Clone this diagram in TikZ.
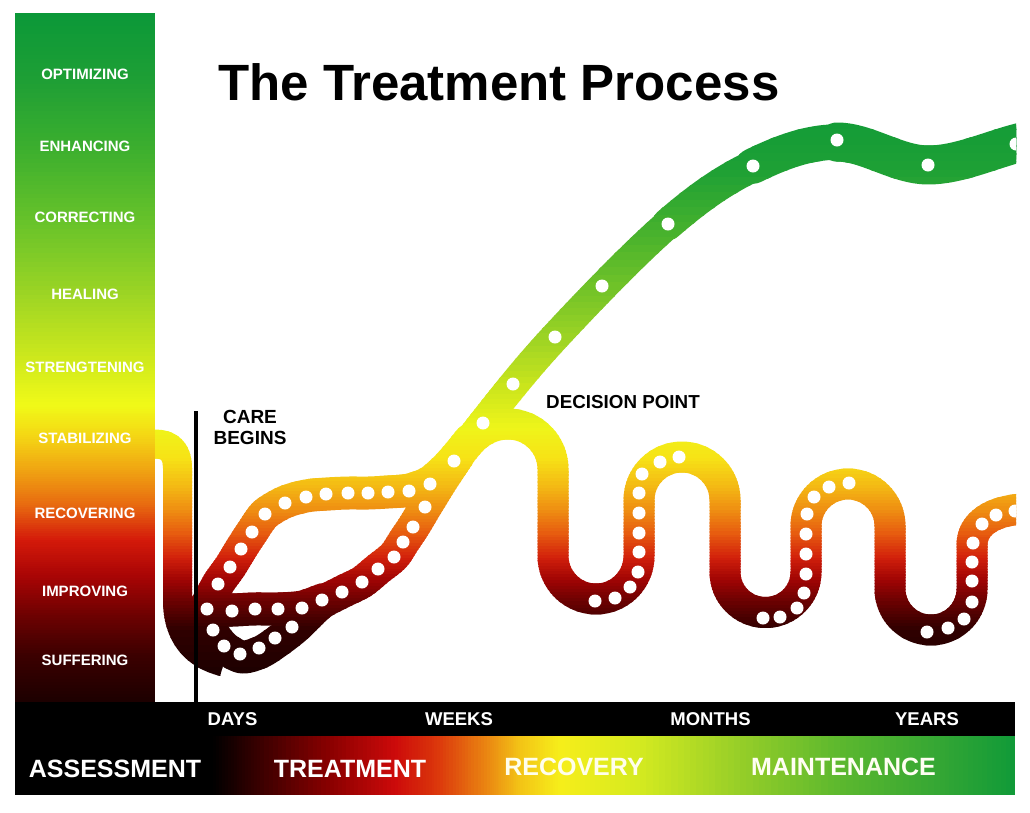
\documentclass[tikz,border=0pt]{standalone}
\usepackage{fontspec}
\setmainfont{Liberation Sans}
% road colours (by height)
\definecolor{ra}{HTML}{0F9A38}\definecolor{rb}{HTML}{1EA035}\definecolor{rc}{HTML}{45B12D}
\definecolor{rd}{HTML}{72C328}\definecolor{re}{HTML}{9ED424}\definecolor{rf}{HTML}{CDE61C}
\definecolor{rg}{HTML}{EEF51A}\definecolor{rh}{HTML}{F7E316}\definecolor{ri}{HTML}{F4BC14}
\definecolor{rj}{HTML}{EF8F12}\definecolor{rk}{HTML}{E65A0F}\definecolor{rl}{HTML}{D2200B}
\definecolor{rm}{HTML}{A00404}\definecolor{rn}{HTML}{640101}\definecolor{ro}{HTML}{300000}
\definecolor{rp}{HTML}{160000}
% left bar colours
\definecolor{ba}{HTML}{0B9838}\definecolor{bb}{HTML}{1E9F35}\definecolor{bc}{HTML}{3DAF2E}
\definecolor{bd}{HTML}{66C22A}\definecolor{be}{HTML}{9DD524}\definecolor{bf}{HTML}{CFE91C}
\definecolor{bg}{HTML}{F0FA18}\definecolor{bh}{HTML}{F4D814}\definecolor{bi}{HTML}{F0A412}
\definecolor{bj}{HTML}{E86A10}\definecolor{bk}{HTML}{D41A0A}\definecolor{bl}{HTML}{AA0505}
\definecolor{bm}{HTML}{6E0101}\definecolor{bn}{HTML}{3C0000}\definecolor{bo}{HTML}{1C0000}
% bottom band colours
\definecolor{ha}{HTML}{000000}\definecolor{hb}{HTML}{3A0000}\definecolor{hc}{HTML}{8A0000}
\definecolor{hd}{HTML}{CC0A0A}\definecolor{he}{HTML}{DC3A0C}\definecolor{hf}{HTML}{EB8C12}
\definecolor{hg}{HTML}{F3C416}\definecolor{hh}{HTML}{F6EE1A}\definecolor{hi}{HTML}{D4EA20}
\definecolor{hj}{HTML}{96CE28}\definecolor{hk}{HTML}{5CB82E}\definecolor{hl}{HTML}{34A634}
\definecolor{hm}{HTML}{109A38}
\colorlet{bandc}{black}

% segments of the green road (exact Bezier chain, so partial overlays follow it)
\def\segD{(837,142) .. controls (866.2,141.8) and (897.2,165) .. (928,165) .. controls (958.8,165) and (990.7,149.7) .. (1022,142)}
\def\segC{(753,166) .. controls (781.2,152.3) and (807.8,142.2) .. \segD}
\def\segB{(668,224) .. controls (701,195.5) and (724.8,179.7) .. \segC}
\def\segA{(440,482) .. controls (454.3,462.3) and (463.8,447.2) .. (483,423) .. controls (502.2,398.8) and (524.2,370.2) .. (555,337) .. controls (585.8,303.8) and (635,252.5) .. \segB}

\newcommand\drawroads{%
 % drop from the bar
 \draw[roadline, line width=29pt] (135,444) -- (155,444) .. controls (170,444) and (177.5,452) .. (177.5,468) -- (177.5,600) .. controls (177.5,635) and (195,655) .. (224,662);
 % upper lane
 \draw[roadline, line width=33pt, line cap=round] plot[smooth] coordinates {(203,612) (218,584) (230,567) (241,549) (252,532) (265,514) (285,502) (306,496) (326,494) (348,493) (368,493) (388,492) (409,490) (430,482) (450,464) (470,440)};
 % middle lane
 \draw[roadline, line width=33pt, line cap=round] plot[smooth] coordinates {(203,611) (232,610) (255,609) (278,609) (302,607) (322,600)};
 % bottom + lower lane
 \draw[roadline, line width=33pt, line cap=round] plot[smooth] coordinates {(203,610) (211,630) (224,647) (242,657) (261,652) (278,641) (296,627) (320,604) (342,592) (362,582) (378,569) (394,556) (404,541) (414,526) (426,506) (442,480) (458,456)};
 % main ascending road, widening towards the top
 \draw[roadline, line width=30pt] \segA;
 \draw[roadline, line width=32pt, line cap=round] \segB;
 \draw[roadline, line width=35.5pt, line cap=round] \segC;
 \draw[roadline, line width=39pt, line cap=round] \segD;
 % waves after the decision point
 \draw[roadline, line width=31pt] (468,444) .. controls (480,430) and (494,424) .. (508,424)
   .. controls (532.8,424) and (553,444.2) .. (553,469) -- (553,556)
   .. controls (553,579.7) and (572.3,599) .. (596,599) .. controls (619.7,599) and (639,579.7) .. (639,556) -- (639,500)
   .. controls (639,476.3) and (658.3,457) .. (682,457) .. controls (705.7,457) and (725,476.3) .. (725,500) -- (725,572)
   .. controls (725,594.4) and (743.1,612.5) .. (765.5,612.5) .. controls (787.9,612.5) and (806,594.4) .. (806,572) -- (806,526)
   .. controls (806,502.8) and (824.8,484) .. (848,484) .. controls (871.2,484) and (890,502.8) .. (890,526) -- (890,589)
   .. controls (890,611.6) and (908.4,630) .. (931,630) .. controls (953.6,630) and (972,611.6) .. (972,589) -- (972,545)
   .. controls (972,524) and (992,511) .. (1022,509);
}

\begin{document}
\begin{tikzpicture}[x=1pt,y=-1pt,
  roadline/.style={draw=bandc, line join=round},
  lbl/.style={text=white, font=\bfseries\fontsize{15}{17}\selectfont, inner sep=0pt},
  axislbl/.style={text=white, font=\bfseries\fontsize{18.5}{21}\selectfont, inner sep=0pt},
  phaselbl/.style={text=white, font=\bfseries\fontsize{25}{28}\selectfont, inner sep=0pt},
  blacklbl/.style={text=black, font=\bfseries\fontsize{19}{21.7}\selectfont, inner sep=0pt, align=center},
  dot/.style={fill=white}]
\useasboundingbox (0,0) rectangle (1030,812);
\fill[white] (0,0) rectangle (1030,812);

% ---- road with vertical gradient (drawn band by band)
\foreach \ya/\yb/\ca/\cb in {105/170/ra/rb, 170/230/rb/rc, 230/290/rc/rd, 290/340/rd/re, 340/390/re/rf, 390/428/rf/rg, 428/458/rg/rh, 458/485/rh/ri, 485/510/ri/rj, 510/535/rj/rk, 535/558/rk/rl, 558/580/rl/rm, 580/605/rm/rn, 605/630/rn/ro, 630/690/ro/rp}{
  \foreach \i in {0,...,7}{
    \pgfmathsetmacro\ys{\ya+(\yb-\ya)*\i/8}
    \pgfmathsetmacro\ye{\ya+(\yb-\ya)*(\i+1)/8+0.6}
    \pgfmathsetmacro\pc{100-100*(\i+0.5)/8}
    \begin{scope}
      \clip (0,\ys) rectangle (1016,\ye);
      \colorlet{bandc}{\ca!\pc!\cb}
      \drawroads
    \end{scope}
  }
}

% ---- left bar
\foreach \ya/\yb/\ca/\cb in {13/80/ba/bb, 80/150/bb/bc, 150/220/bc/bd, 220/295/bd/be, 295/360/be/bf, 360/405/bf/bg, 405/435/bg/bh, 435/470/bh/bi, 470/505/bi/bj, 505/540/bj/bk, 540/575/bk/bl, 575/615/bl/bm, 615/655/bm/bn, 655/703/bn/bo}{
  \foreach \i in {0,...,15}{
    \pgfmathsetmacro\ys{\ya+(\yb-\ya)*\i/16}
    \pgfmathsetmacro\ye{\ya+(\yb-\ya)*(\i+1)/16+0.6}
    \pgfmathsetmacro\pc{100-100*(\i+0.5)/16}
    \colorlet{bandc}{\ca!\pc!\cb}
    \fill[bandc] (15,\ys) rectangle (155,\ye);
  }
}

% ---- bottom bands
\fill[black] (15,702) rectangle (1015,737);
\fill[black] (15,736) rectangle (214,795);
\foreach \xa/\xb/\ca/\cb in {213/260/ha/hb, 260/330/hb/hc, 330/395/hc/hd, 395/440/hd/he, 440/490/he/hf, 490/520/hf/hg, 520/560/hg/hh, 560/640/hh/hi, 640/740/hi/hj, 740/840/hj/hk, 840/940/hk/hl, 940/1015/hl/hm}{
  \foreach \i in {0,...,15}{
    \pgfmathsetmacro\xs{\xa+(\xb-\xa)*\i/16}
    \pgfmathsetmacro\xe{min(\xa+(\xb-\xa)*(\i+1)/16+0.6,1015)}
    \pgfmathsetmacro\pc{100-100*(\i+0.5)/16}
    \colorlet{bandc}{\ca!\pc!\cb}
    \fill[bandc] (\xs,736) rectangle (\xe,795);
  }
}

% ---- care begins line
\coordinate (careTop) at (196,411);
\coordinate (careBot) at (196,703);
\draw[line width=3.5pt] (careTop) -- (careBot);

% ---- white dots
\begin{scope}
\clip (0,0) rectangle (1016,812);
\foreach \x/\y in {454/461, 483/423, 513/384, 555/337, 602/286, 668/224, 753/166, 837/140, 928/165, 1016/144,
  218/584, 230/567, 241/549, 252/532, 265/514, 285/503, 306/497, 326/494, 348/493, 368/493, 388/492, 409/491, 430/484,
  425/507, 413/527, 403/542, 394/557, 378/569, 362/582, 342/592, 322/600,
  302/608, 278/609, 255/609, 232/611, 207/609,
  213/630, 224/646, 240/654, 259/648, 275/638, 292/627,
  595/601, 615/598, 630/587, 638/572, 639/552, 639/533, 639/513, 639/493, 642/474, 660/462, 679/457,
  763/618, 780/617, 797/608, 804/593, 806/574, 806/554, 806/534, 807/514, 814/497, 829/487, 849/483,
  927/632, 948/628, 964/619, 972/602, 972/581, 972/562, 973/543, 982/524, 996/515, 1015/511}
  \fill[dot] (\x,\y) circle[radius=6.5pt];
\end{scope}

% ---- texts
\node[anchor=base west, font=\bfseries\fontsize{51}{56}\selectfont, inner sep=0pt] (title) at (218,100) {The Treatment Process};

\node[lbl] (optimizing) at (85,74) {OPTIMIZING};
\node[lbl] (enhancing) at (85,146) {ENHANCING};
\node[lbl] (correcting) at (85,217.5) {CORRECTING};
\node[lbl] (healing) at (85,294) {HEALING};
\node[lbl] (strengtening) at (85,367.5) {STRENGTENING};
\node[lbl] (stabilizing) at (85,438) {STABILIZING};
\node[lbl] (recovering) at (85,513) {RECOVERING};
\node[lbl] (improving) at (85,591.5) {IMPROVING};
\node[lbl] (suffering) at (85,660) {SUFFERING};

\node[blacklbl] (care) at (250,427.5) {CARE\\BEGINS};
\node[blacklbl, font=\bfseries\fontsize{18.8}{21}\selectfont] (decision) at (623,402.5) {DECISION POINT};

\node[axislbl] (days) at (232.5,719) {DAYS};
\node[axislbl] (weeks) at (459,719) {WEEKS};
\node[axislbl] (months) at (710.5,719) {MONTHS};
\node[axislbl] (years) at (927,719) {YEARS};

\node[phaselbl] (assessment) at (115,769) {ASSESSMENT};
\node[phaselbl] (treatment) at (350,769) {TREATMENT};
\node[phaselbl, text=white!92!yellow] (recovery) at (574,767) {RECOVERY};
\node[phaselbl, text=white!95!yellow] (maintenance) at (843.5,767) {MAINTENANCE};
\end{tikzpicture}
\end{document}
